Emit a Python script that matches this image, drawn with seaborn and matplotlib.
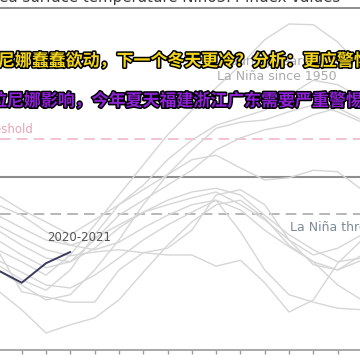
import pandas as pd
import matplotlib.pyplot as plt
import matplotlib.patheffects as pe
import seaborn as sns

# =============================
# DATA (Niño3.4 anomaly, °C)
# =============================
months = ["Sep", "Oct", "Nov", "Dec", "Jan", "Feb", "Mar", "Apr", "May",
          "Jun", "Jul", "Aug", "Sep", "Oct", "Nov", "Dec"]
positions = list(range(-1, 15))

y_1954 = [-0.97, -1.13, -1.31, -1.04, -0.64, -0.24, 0.16, 0.56, 0.89, 1.19, 1.49, 1.83, 2.04, 2.03, 1.80, 1.45]
y_1964 = [-1.17, -1.37, -1.51, -1.24, -0.77, -0.37, -0.11, 0.23, 0.49, 0.69, 0.79, 0.89, 1.09, 1.29, 1.23, 1.05]
y_1967 = [-0.84, -1.04, -1.21, -1.13, -0.84, -0.51, -0.31, -0.11, 0.09, 0.36, 0.52, 0.63, 0.69, 0.83, 0.92, 0.76]
y_1970 = [-0.71, -0.91, -1.08, -1.13, -0.95, -0.68, -0.47, -0.31, -0.20, -0.15, -0.24, -0.51, -0.77, -0.97, -1.13, -1.08]
y_1973 = [-0.97, -1.53, -1.60, -1.67, -1.67, -1.24, -1.01, -0.95, -0.71, -0.24, -0.17, -0.37, -0.84, -1.17, -1.24, -1.04]
y_1988 = [-1.51, -1.77, -2.08, -1.97, -1.88, -1.64, -1.27, -0.91, -0.60, -0.37, -0.31, -0.55, -0.91, -1.13, -1.44, -1.64]
y_1998 = [-0.64, -0.81, -0.97, -1.05, -1.00, -0.97, -1.01, -1.04, -1.04, -1.19, -1.11, -1.41, -1.80, -1.64, -1.15, -0.84]
y_2007 = [-0.37, -0.51, -0.73, -0.91, -0.97, -0.87, -0.68, -0.51, -0.37, -0.31, -0.73, -1.24, -1.57, -1.67, -1.75, -1.77]
y_2000 = [-0.24, -0.44, -0.60, -0.77, -0.57, -0.37, -0.17, 0.03, 0.23, 0.29, 0.12, -0.04, -0.01, 0.09, 0.07, -0.17]
y_2011 = [-0.51, -0.68, -0.84, -0.91, -0.81, -0.64, -0.47, -0.37, -0.28, -0.20, -0.37, -0.57, -0.84, -1.04, -0.95, -0.77]
y_2010 = [-1.11, -1.27, -1.44, -1.48, -1.31, -1.08, -0.84, -0.64, -0.47, -0.31, -0.44, -0.71, -0.93, -1.13, -1.24, -1.11]
y_1975 = [-1.24, -1.44, -1.64, -1.57, -1.24, -0.84, -0.37, 0.03, 0.36, 0.65, 0.73, 0.76, 0.87, 0.96, 0.87, 0.73]

y_2020 = [-1.24, -1.41, -1.15, -1.00]

past_years = {
    "1954-1955": y_1954, "1964-1965": y_1964, "1967-1968": y_1967,
    "1970-1971": y_1970, "1973-1974": y_1973, "1988-1989": y_1988,
    "1998-1999": y_1998, "2007-2008": y_2007, "2000-2001": y_2000,
    "2011-2012": y_2011, "2010-2011": y_2010, "1975-1976": y_1975,
}

rows = []
for name, vals in past_years.items():
    for p, v in zip(positions, vals):
        rows.append({"period": name, "pos": p, "value": v})
df_past = pd.DataFrame(rows)
df_now = pd.DataFrame({"pos": positions[:len(y_2020)], "value": y_2020})

# =============================
# FIGURE
# =============================
sns.set_theme(style="white")
plt.rcParams["font.family"] = ["DejaVu Sans"]

fig = plt.figure(figsize=(3.6, 3.6), dpi=100)
ax = fig.add_axes([0, 10 / 360, 1, 342 / 360])

sns.lineplot(data=df_past, x="pos", y="value", units="period", estimator=None,
             color="#d6d6d6", linewidth=1.0, ax=ax)
sns.lineplot(data=df_now, x="pos", y="value", color="#3b3b5e", linewidth=1.4, ax=ax)

ax.axhline(0, color="#8e8e8e", linewidth=1.5, zorder=1)
ax.axhline(0.5, color="#ecb3c2", linewidth=1.1, dashes=(7, 4), zorder=1)
ax.axhline(-0.5, color="#a3a3a3", linewidth=1.1, dashes=(7, 4), zorder=1)

ax.text(0.47, 0.54, "El Niño threshold", color="#e6a4b6", fontsize=8.5,
        ha="right", va="bottom")
ax.text(11.04, -0.67, "La Niña threshold", color="#7d8b98", fontsize=9,
        ha="left", va="center")
ax.text(1.05, -0.81, "2020-2021", color="#555555", fontsize=8.5,
        ha="left", va="center")

ax.set_xlim(-0.893, 13.92)
ax.set_ylim(-2.307, 2.253)
ax.set_xticks(range(0, 14))
ax.set_xticklabels(months[1:15], color="#555555", fontsize=8.5)
ax.set_yticks([])
ax.set_xlabel("")
ax.set_ylabel("")
ax.tick_params(axis="x", length=3, width=1, color="#999999", pad=4, bottom=True)
for side in ["left", "right"]:
    ax.spines[side].set_visible(False)
ax.spines["top"].set_color("#8e8e8e")
ax.spines["top"].set_linewidth(1.4)
ax.spines["bottom"].set_color("#a8a8a8")
ax.spines["bottom"].set_linewidth(1.4)

fig.text(340 / 360, 1.006, "Monthly sea surface temperature Niño3.4 index values",
         color="#3c3c3c", fontsize=10.8, ha="right", va="center")
fig.text(277 / 360, 1 - 62 / 360, "during years of", color="#aaaaaa",
         fontsize=9, ha="center", va="center")
fig.text(277 / 360, 1 - 77 / 360, "La Niña since 1950", color="#aaaaaa",
         fontsize=9, ha="center", va="center")

stroke = [pe.withStroke(linewidth=2.2, foreground="black")]
fig.text(-19 / 360, 1 - 61 / 360, "拉尼娜蠢蠢欲动，下一个冬天更冷？分析：更应警惕",
         color="#f3d61c", fontsize=12.2, fontweight="bold", ha="left", va="center",
         family=["Noto Sans CJK SC", "DejaVu Sans"], path_effects=stroke)
fig.text(-10 / 360, 1 - 101 / 360, "拉尼娜影响，今年夏天福建浙江广东需要严重警惕！",
         color="#8e22d6", fontsize=12.2, fontweight="bold", ha="left", va="center",
         family=["Noto Sans CJK SC", "DejaVu Sans"], path_effects=stroke)

fig.savefig("out.png", dpi=100, facecolor="white")
